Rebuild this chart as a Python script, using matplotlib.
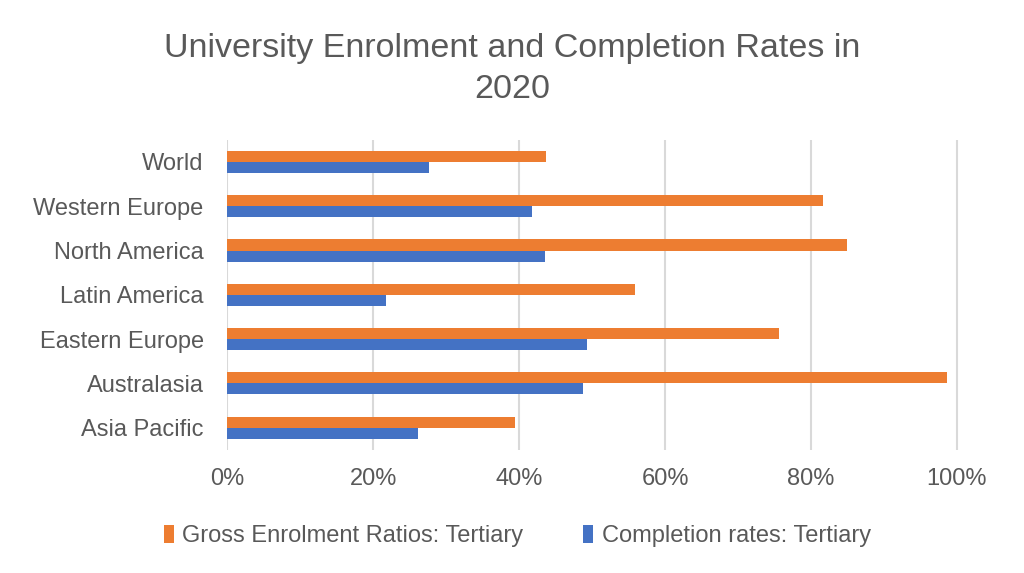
import numpy as np
import matplotlib.pyplot as plt
from matplotlib.ticker import PercentFormatter

plt.rcParams['font.family'] = ['Liberation Sans', 'DejaVu Sans']

regions = ['World', 'Western Europe', 'North America', 'Latin America',
           'Eastern Europe', 'Australasia', 'Asia Pacific']
enrolment = [43.7, 81.7, 84.9, 55.9, 75.6, 98.6, 39.4]
completion = [27.6, 41.7, 43.6, 21.7, 49.3, 48.8, 26.1]

grey = '#595959'
fig = plt.figure(figsize=(10.24, 5.73), dpi=100)
ax = fig.add_axes([0.222, 0.215, 0.716, 0.541])

y = np.arange(len(regions))
h = 0.25
ax.barh(y - h / 2, enrolment, height=h, color='#ED7D31',
        label='Gross Enrolment Ratios: Tertiary', zorder=3)
ax.barh(y + h / 2, completion, height=h, color='#4472C4',
        label='Completion rates: Tertiary', zorder=3)

ax.set_ylim(len(regions) - 0.5, -0.5)
ax.set_xlim(0, 100.5)
ax.set_xticks(np.arange(0, 101, 20))
ax.xaxis.set_major_formatter(PercentFormatter(decimals=0))
ax.set_yticks(y)
ax.set_yticklabels(regions)
ax.tick_params(length=0, labelsize=17, colors=grey)
ax.tick_params(axis='x', pad=13)
ax.tick_params(axis='y', pad=17)
ax.grid(axis='x', color='#d9d9d9', linewidth=1.5, zorder=0)
for s in ax.spines.values():
    s.set_visible(False)

fig.suptitle('University Enrolment and Completion Rates in\n2020',
             fontsize=24.5, color=grey, y=0.942, linespacing=1.42)

leg = fig.legend(loc='lower center', bbox_to_anchor=(0.505, 0.008), ncol=2,
                 frameon=False, fontsize=17, handlelength=0.42,
                 handleheight=0.8, handletextpad=0.38, columnspacing=2.5)
for t in leg.get_texts():
    t.set_color(grey)

fig.savefig('out.png', dpi=100)
